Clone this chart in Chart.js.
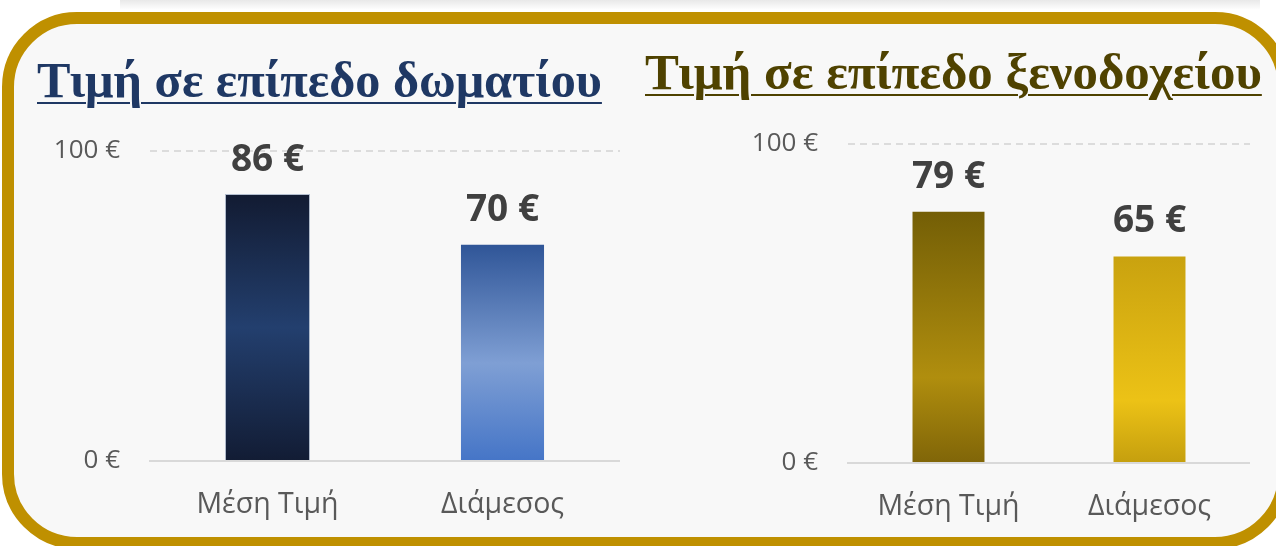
<!DOCTYPE html>
<html>
<head>
<meta charset="utf-8">
<script src="https://cdn.jsdelivr.net/npm/chart.js@4.4.1/dist/chart.umd.min.js"></script>
<style>
  html, body { margin: 0; padding: 0; background: #ffffff; width: 1276px; height: 546px; overflow: hidden; position: relative; }
  .topshade { position: absolute; left: 120px; top: 0; width: 1140px; height: 10px;
    background: linear-gradient(to bottom, rgba(190,190,190,0.35), rgba(255,255,255,0)); }
  .frame { position: absolute; left: 2px; top: 12px; width: 1288px; height: 537px; box-sizing: border-box;
    border: 12px solid #bf9000; border-radius: 75px; background: #f8f8f8; }
  .title { position: absolute; font-family: "Liberation Serif", serif; font-weight: bold; line-height: 1; white-space: nowrap;
    text-decoration: underline; text-decoration-thickness: 2px; text-underline-offset: 5px; }
  #t1 { color: #1f3864; left: 37px; }
  #t2 { color: #4f4200; left: 645px; }
  canvas { position: absolute; }
  #c1 { left: 40px; top: 105px; }
  #c2 { left: 738px; top: 98px; }
</style>
</head>
<body>
<div class="topshade"></div>
<div class="frame"></div>
<div class="title" id="t1">Τιμή σε επίπεδο δωματίου</div>
<div class="title" id="t2">Τιμή σε επίπεδο ξενοδοχείου</div>
<canvas id="c1" width="580" height="416"></canvas>
<canvas id="c2" width="512" height="425"></canvas>
<script>
// ---- data ----
const categories = ['Μέση Τιμή', 'Διάμεσος'];
const roomValues = [86, 70];
const hotelValues = [79, 65];
const yTickValues = [0, 100];
const currency = '€';

// ---- titles: fit width ----
function fitTitle(id, targetWidth, baseline) {
  const el = document.getElementById(id);
  const m = document.createElement('canvas').getContext('2d');
  m.font = 'bold 100px "Liberation Serif"';
  const w = m.measureText(el.textContent).width;
  const fs = 100 * targetWidth / w;
  el.style.fontSize = fs + 'px';
  el.style.top = (baseline - 0.8375 * fs) + 'px';
}
fitTitle('t1', 565, 97);
fitTitle('t2', 617, 90);

// ---- styles ----
const roomGrad = [
  [[0, '#121b32'], [0.5, '#233f6e'], [1, '#121c34']],
  [[0, '#2f5597'], [0.55, '#7f9fd4'], [1, '#4575c7']]
];
const hotelGrad = [
  [[0, '#735e06'], [0.66, '#b08e0e'], [1, '#806508']],
  [[0, '#c9a20f'], [0.7, '#ecc216'], [1, '#c59f0e']]
];

function gradFill(stopsList) {
  return (ctx) => {
    const stops = stopsList[ctx.dataIndex % stopsList.length];
    const chart = ctx.chart;
    const y = chart.scales && chart.scales.y;
    if (!y || ctx.type !== 'data' || !ctx.parsed) return stops[1][1];
    const top = y.getPixelForValue(ctx.parsed.y);
    const base = y.getPixelForValue(0);
    if (!isFinite(top) || !isFinite(base) || top === base) return stops[1][1];
    const g = chart.ctx.createLinearGradient(0, top, 0, base);
    stops.forEach(s => g.addColorStop(s[0], s[1]));
    return g;
  };
}

const valueLabels = {
  id: 'valueLabels',
  afterDatasetsDraw(chart) {
    const c = chart.ctx;
    chart.data.datasets.forEach((ds, di) => {
      const meta = chart.getDatasetMeta(di);
      meta.data.forEach((bar, i) => {
        c.save();
        c.font = 'bold 37px "Open Sans"';
        c.fillStyle = '#404040';
        c.textAlign = 'center';
        c.textBaseline = 'alphabetic';
        c.fillText(ds.data[i] + ' ' + currency, bar.x, bar.y - 23);
        c.restore();
      });
    });
  }
};

function makeChart(id, values, grads, barPct, borderColors) {
  return new Chart(document.getElementById(id), {
    type: 'bar',
    data: {
      labels: categories,
      datasets: [{
        data: values,
        backgroundColor: gradFill(grads),
        borderColor: borderColors,
        borderWidth: 1,
        borderSkipped: 'bottom',
        categoryPercentage: 1,
        barPercentage: barPct
      }]
    },
    options: {
      responsive: false,
      animation: false,
      events: [],
      layout: { padding: { top: 20, right: 0, bottom: 0, left: 0 } },
      plugins: { legend: { display: false }, tooltip: { enabled: false }, title: { display: false } },
      scales: {
        x: {
          grid: { display: false, drawTicks: false },
          border: { display: true, color: '#d9d9d9', width: 2 },
          ticks: { color: '#595959', font: { family: 'Open Sans', size: 28.5 }, padding: 27 },
          afterFit: (s) => { s.height = 60; }
        },
        y: {
          min: yTickValues[0],
          max: yTickValues[yTickValues.length - 1],
          afterBuildTicks: (s) => { s.ticks = yTickValues.map(v => ({ value: v })); },
          grid: {
            drawTicks: false,
            lineWidth: 2,
            color: (ctx) => (ctx.tick && ctx.tick.value === 0) ? 'rgba(0,0,0,0)' : '#dcdcdc'
          },
          border: { display: false, dash: [7, 5] },
          ticks: {
            color: '#595959',
            font: { family: 'Open Sans', size: 26 },
            padding: 30,
            callback: (v) => v + ' ' + currency
          },
          afterFit: (s) => { s.width = 110; }
        }
      }
    },
    plugins: [valueLabels]
  });
}

makeChart('c1', roomValues, roomGrad, 0.362, ['rgba(150,165,190,0.7)', 'rgba(0,0,0,0)']);
makeChart('c2', hotelValues, hotelGrad, 0.368, ['rgba(0,0,0,0)', 'rgba(0,0,0,0)']);
</script>
</body>
</html>
